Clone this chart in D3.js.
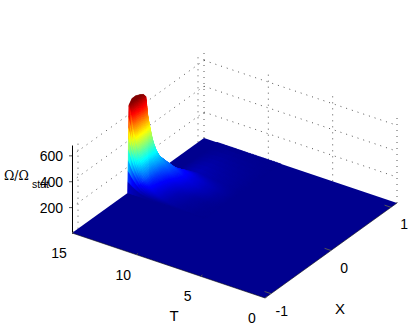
<!DOCTYPE html>
<html>
<head>
<meta charset="utf-8">
<script src="https://cdn.jsdelivr.net/npm/d3@7"></script>
<style>
  html, body { margin: 0; padding: 0; background: #fff; }
  svg { display: block; }
  text { font-family: "Liberation Sans", Arial, sans-serif; fill: #000; }
</style>
</head>
<body>
<svg id="chart" width="415" height="329"></svg>
<script>
// ticks
const tTicks = [15, 10, 5, 0];
const xTicks = [-1, 0, 1];
const zTicks = [200, 400, 600];

// surface grid
const xGrid = [-1.1, -0.17, -0.15, -0.1, -0.04, 0.03, 0.09, 0.13, 0.2, 0.3, 0.45, 1.1];
const tGrid = [15, 14.85, 14.7, 14.5, 14.3, 14, 13.5, 13, 12.5, 12, 11, 10, 9, 0];
const row150 = [0, 0, 670, 705, 706, 692, 674, 644, 0, 0, 0, 0];
const row148 = [0, 0, 600, 620, 630, 610, 570, 500, 20, 0, 0, 0];
const row147 = [0, 0, 500, 510, 510, 500, 470, 425, 70, 0, 0, 0];
const row145 = [0, 0, 400, 405, 405, 400, 375, 335, 140, 10, 0, 0];
const row143 = [0, 0, 310, 315, 315, 310, 300, 275, 170, 30, 0, 0];
const row140 = [0, 0, 190, 200, 210, 225, 230, 220, 175, 60, 0, 0];
const row135 = [0, 0, 100, 105, 115, 130, 145, 165, 155, 85, 15, 0];
const row130 = [0, 0, 60, 65, 75, 85, 100, 115, 125, 90, 25, 0];
const row125 = [0, 0, 35, 40, 45, 55, 65, 80, 95, 80, 30, 0];
const row120 = [0, 0, 20, 22, 26, 32, 45, 55, 65, 60, 25, 0];
const row110 = [0, 0, 8, 8, 10, 12, 16, 25, 35, 35, 15, 0];
const row100 = [0, 0, 2, 2, 3, 3, 5, 8, 12, 15, 8, 0];
const row090 = [0, 0, 0, 0, 0, 0, 0, 0, 0, 0, 0, 0];
const row000 = [0, 0, 0, 0, 0, 0, 0, 0, 0, 0, 0, 0];
const omega = [row150, row148, row147, row145, row143, row140, row135, row130, row125, row120, row110, row100, row090, row000];

const svg = d3.select('#chart');

// the box is drawn as three skew axes that add up on screen
const originX = 72, originY = 233;
const tToX = d3.scaleLinear().domain([15, 0]).range([0, 193]);
const tToY = d3.scaleLinear().domain([15, 0]).range([0, 65]);
const xToX = d3.scaleLinear().domain([-1.1, 1.1]).range([0, 132]);
const xToY = d3.scaleLinear().domain([-1.1, 1.1]).range([0, -95]);
const zToY = d3.scaleLinear().domain([0, 680]).range([0, -88]);

function project(t, x, z) {
    return [originX + tToX(t) + xToX(x), originY + tToY(t) + xToY(x) + zToY(z)];
}

// jet colormap
const jet = d3.scaleLinear()
    .domain([0, 0.125, 0.375, 0.625, 0.875, 1].map(d => d * 680))
    .range(['#00008f', '#0000ff', '#00ffff', '#ffff00', '#ff0000', '#800000'])
    .clamp(true);

// dotted grid on the two back walls
const grid = svg.append('g').attr('fill', 'none').attr('stroke', '#555')
    .attr('stroke-width', 1).attr('stroke-dasharray', '1 5');
const line = d3.line();
zTicks.forEach(z => {
    grid.append('path').attr('d', line([project(15, -1.1, z), project(15, 1.1, z)]));
    grid.append('path').attr('d', line([project(15, 1.1, z), project(0, 1.1, z)]));
});
xTicks.forEach(x => {
    grid.append('path').attr('d', line([project(15, x, 0), project(15, x, 680)]));
});
tTicks.forEach(t => {
    grid.append('path').attr('d', line([project(t, 1.1, 0), project(t, 1.1, 680)]));
});

// surface, back to front so the painter's order hides what is behind
const surface = svg.append('g');
// plain floor first so thin cells leave no seams
surface.append('path')
    .attr('d', line([project(15, -1.1, 0), project(0, -1.1, 0), project(0, 1.1, 0), project(15, 1.1, 0)]) + 'Z')
    .attr('fill', jet(0));

function drawCell(t0, t1, x0, x1, z00, z01, z10, z11) {
    if (Math.max(z00, z01, z10, z11) === 0) return;
    const steps = 8;
    for (let i = 0; i < steps; i++) {
        for (let j = steps - 1; j >= 0; j--) {
            const at = (a, b) => {
                const u = a / steps, v = b / steps;
                const z = (1 - u) * ((1 - v) * z00 + v * z01) + u * ((1 - v) * z10 + v * z11);
                return { p: project(t0 + (t1 - t0) * u, x0 + (x1 - x0) * v, z), z: z };
            };
            const c = [at(i, j), at(i, j + 1), at(i + 1, j + 1), at(i + 1, j)];
            const colour = jet(d3.mean(c, d => d.z));
            surface.append('path')
                .attr('d', line(c.map(d => d.p)) + 'Z')
                .attr('fill', colour)
                .attr('stroke', colour)
                .attr('stroke-width', 0.5);
        }
    }
}
for (let r = 0; r < tGrid.length - 1; r++) {
    for (let c = xGrid.length - 2; c >= 0; c--) {
        drawCell(tGrid[r], tGrid[r + 1], xGrid[c], xGrid[c + 1],
            omega[r][c], omega[r][c + 1], omega[r + 1][c], omega[r + 1][c + 1]);
    }
}

// front edges of the floor
svg.append('path')
    .attr('d', line([project(15, -1.1, 0), project(0, -1.1, 0), project(0, 1.1, 0)]))
    .attr('fill', 'none').attr('stroke', '#111').attr('stroke-width', 0.6);

// z axis
const zAxisScale = d3.scaleLinear().domain([0, 680]).range([originY, originY - 88]);
const zAxis = svg.append('g')
    .attr('transform', `translate(${originX},0)`)
    .call(d3.axisLeft(zAxisScale).tickValues(zTicks).tickSize(3).tickPadding(6).tickSizeOuter(0));
zAxis.selectAll('text').style('font-size', '14px').attr('dy', '0.36em');
zAxis.selectAll('.tick line').attr('stroke', '#555');
zAxis.select('.domain').attr('stroke', '#000').attr('stroke-width', 1);

// T ticks and labels
const tAxis = svg.append('g');
tTicks.forEach(t => {
    const p = project(t, -1.1, 0);
    const q = project(t, -1.07, 0);
    tAxis.append('line').attr('x1', p[0]).attr('y1', p[1]).attr('x2', q[0]).attr('y2', q[1]).attr('stroke', '#555');
    tAxis.append('text').attr('x', p[0] - 13).attr('y', p[1] + 25)
        .attr('text-anchor', 'middle').style('font-size', '14px').text(t);
});

// X ticks and labels
const xAxis = svg.append('g');
xTicks.forEach(x => {
    const p = project(0, x, 0);
    const q = project(0.5, x, 0);
    xAxis.append('line').attr('x1', p[0]).attr('y1', p[1]).attr('x2', q[0]).attr('y2', q[1]).attr('stroke', '#555');
    xAxis.append('text').attr('x', p[0] + 17).attr('y', p[1] + 22)
        .attr('text-anchor', 'end').style('font-size', '14px').text(x);
});

// axis titles
svg.append('text').attr('x', 174).attr('y', 321).attr('text-anchor', 'middle').style('font-size', '15px').text('T');
svg.append('text').attr('x', 340).attr('y', 314).attr('text-anchor', 'middle').style('font-size', '15px').text('X');
svg.append('text').attr('x', 4).attr('y', 180).style('font-family', '"DejaVu Serif", serif').style('font-size', '12.5px').text('Ω/Ω');
svg.append('text').attr('x', 32).attr('y', 188).style('font-size', '10.5px').text('stat');
</script>
</body>
</html>
